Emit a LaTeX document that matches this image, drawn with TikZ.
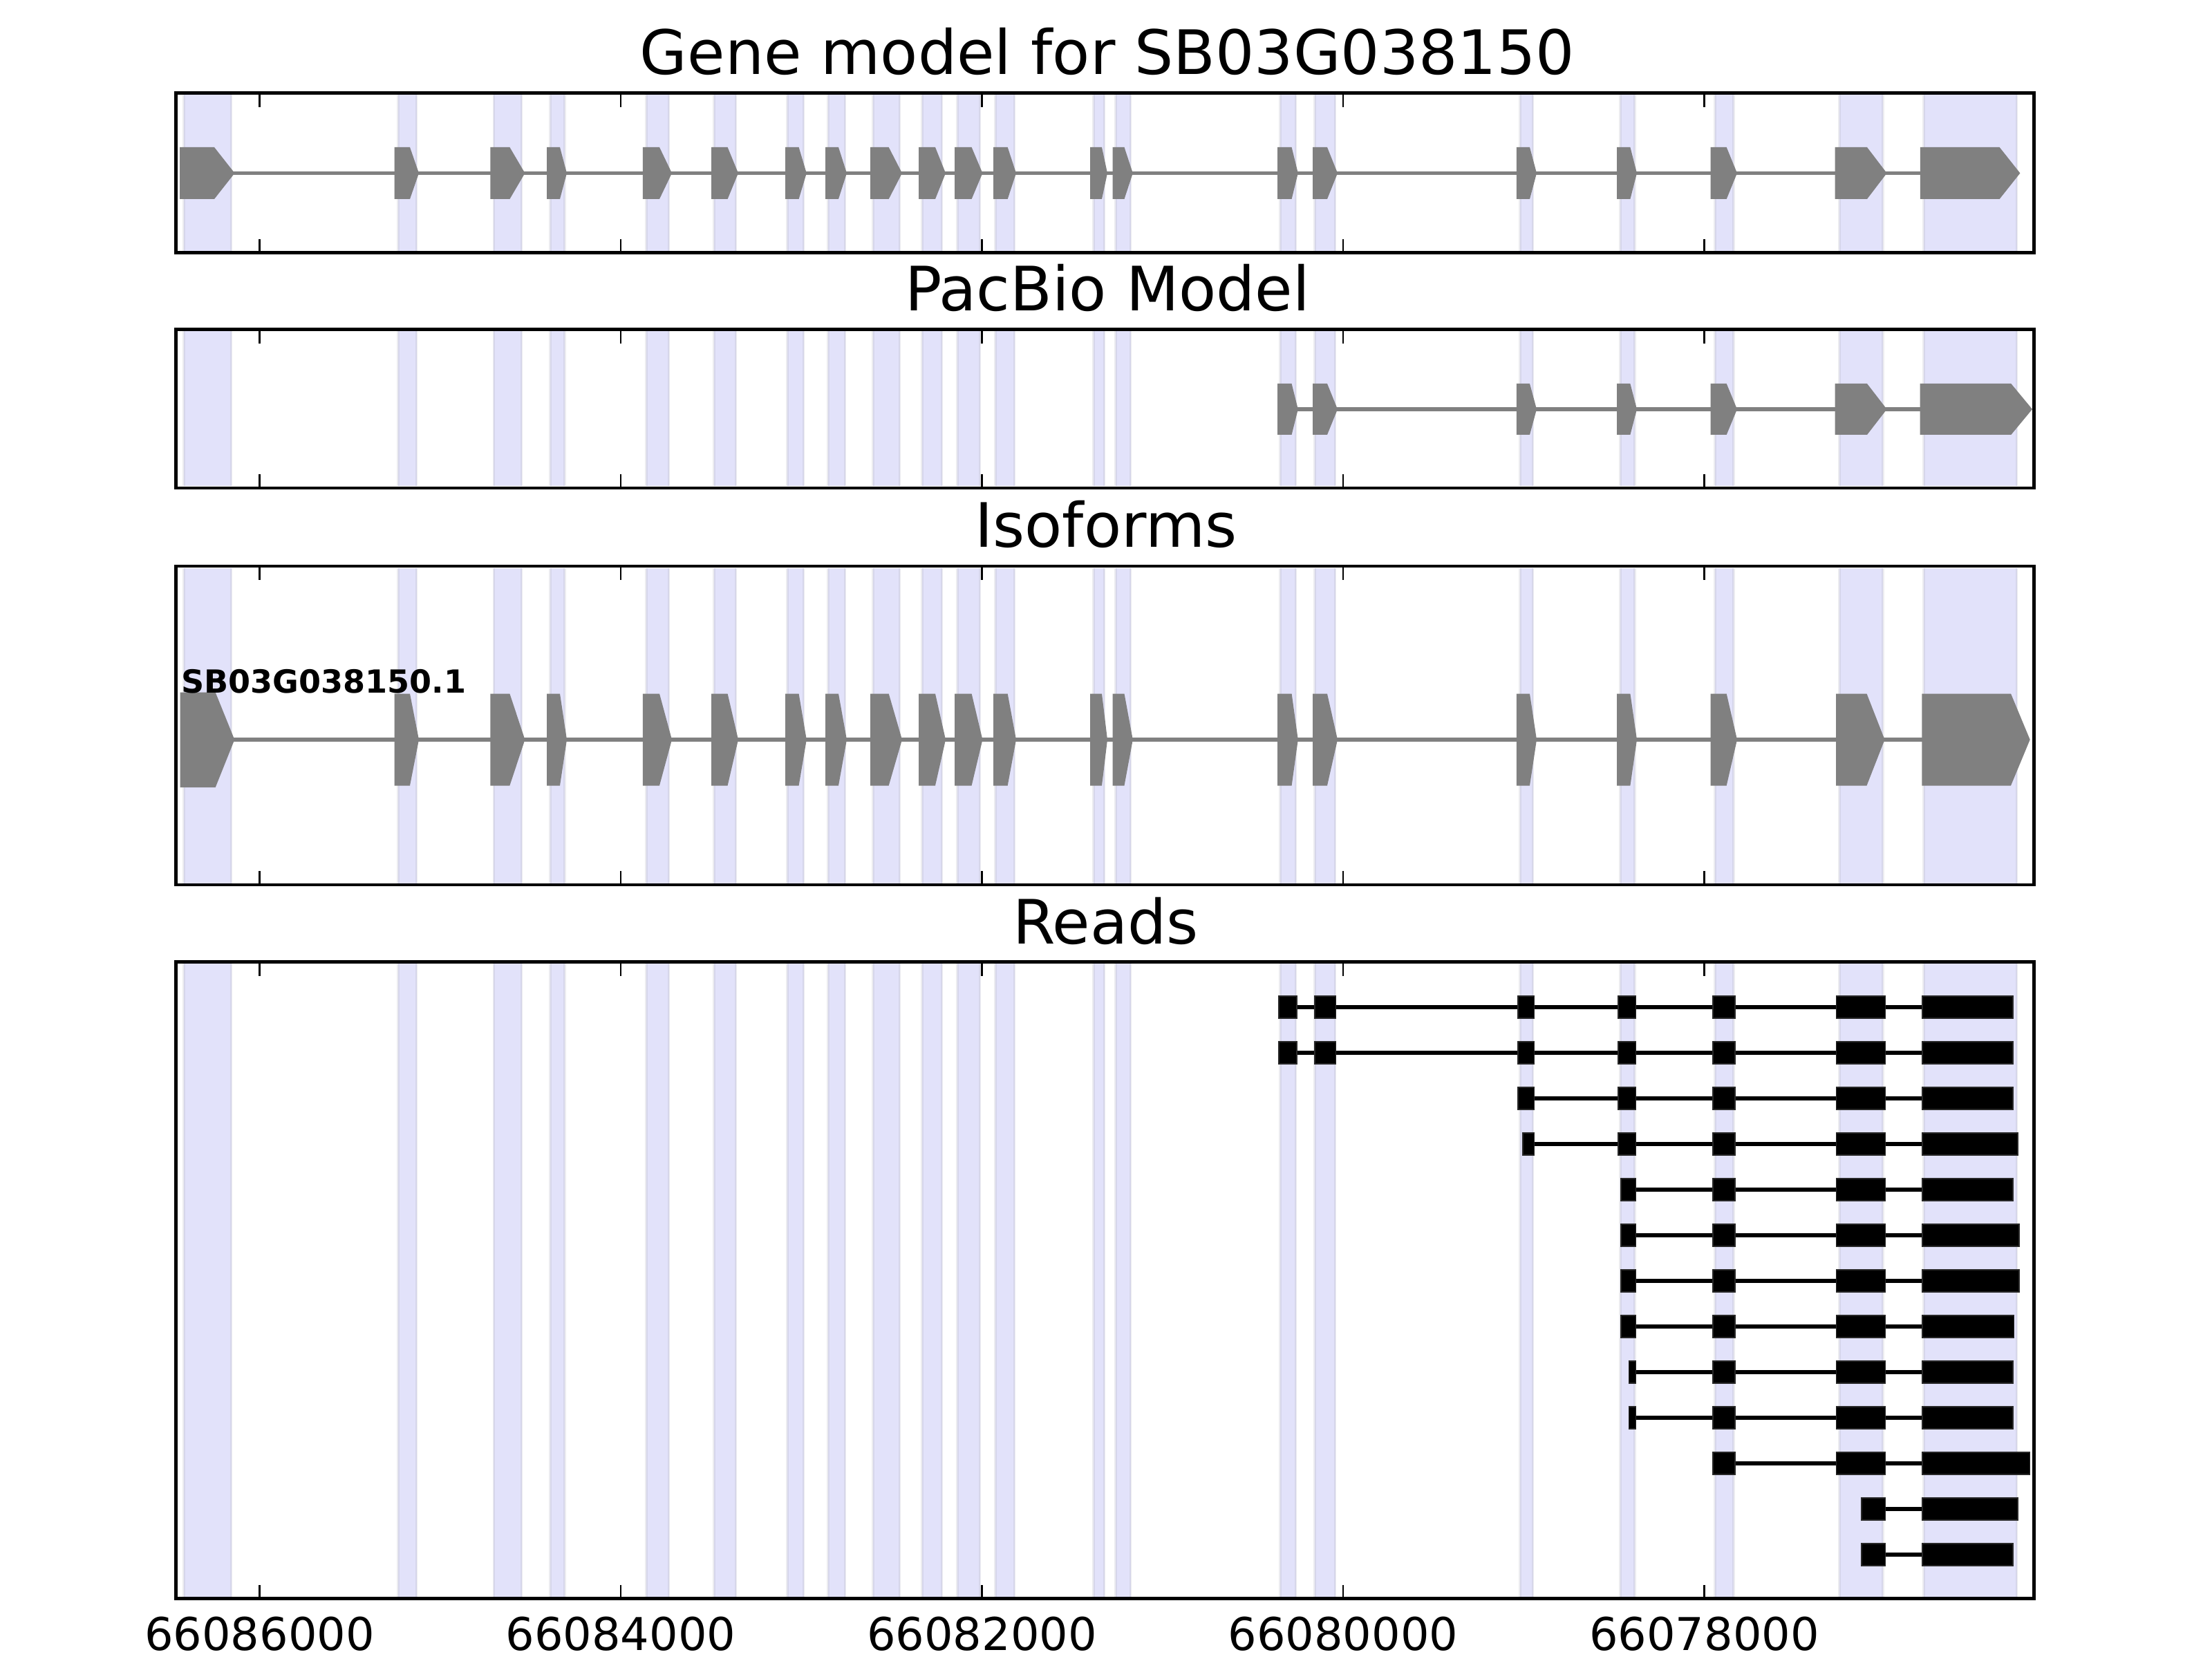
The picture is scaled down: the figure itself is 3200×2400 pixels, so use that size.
\documentclass[tikz,border=0pt]{standalone}
\usepackage{fontspec}
\setmainfont{DejaVu Sans}
\definecolor{bandfill}{RGB}{226,226,250}
\definecolor{bandedge}{RGB}{214,214,234}
\definecolor{bandgray}{RGB}{236,236,240}
\definecolor{exongray}{RGB}{128,128,128}
\tikzset{
  frame/.style={draw=black,line width=1.42pt},
  tickmark/.style={draw=black,line width=0.7pt},
  intron/.style={draw=exongray,line width=1.6pt},
  readline/.style={draw=black,line width=1.45pt},
  readblk/.style={fill=black,draw={rgb,255:red,40;green,40;blue,40},line width=0.3pt},
  exonshape/.style={fill=exongray},
  titletext/.style={anchor=base,inner sep=0pt,font=\fontsize{25.2}{30}\selectfont},
  ticktext/.style={anchor=base,inner sep=0pt,font=\fontsize{18.6}{22}\selectfont},
  isotext/.style={anchor=base west,inner sep=0pt,font=\fontsize{13.1}{16}\selectfont\bfseries}
}
\def\gmBandList{266/334,576/602,714.5/754,796/816.5,935/967,1033/1064,1139/1162,1198/1222,1263/1301,1334/1362,1385/1417,1440/1467,1582/1597,1614/1635,1852/1874,1902/1931,2199/2217,2344/2364.5,2481/2507.5,2661/2723.5,2783/2917}
\def\gmExonsA{260/310/339.5,570.6/593/606,709.4/737.4/759.4,791/810/820,929.8/954/972,1029/1052.6/1068,1136/1155.6/1166.8,1194/1213/1225,1259/1285.7/1305,1329/1353/1368,1381/1405.6/1421.4,1437/1457.7/1470,1577/1594/1602,1609.7/1626.5/1638.8,1848/1868.6/1877.8,1899/1920/1935,2193.9/2213/2223,2339/2358.4/2368,2474.7/2497.7/2513,2654.6/2701/2729.6}
\def\gmExonsB{1848/1868.6/1877.8,1899/1920/1935,2193.9/2213/2223,2339/2358.4/2368,2474.7/2497.7/2513,2654.6/2701/2729.6}
\newcommand\gmBands[2]{%
  \foreach \a/\b in \gmBandList {
    \fill[bandgray] (\a-2,#1) rectangle (\b+2,#2);
    \fill[bandedge] (\a-0.5,#1) rectangle (\b+0.5,#2);
    \fill[bandfill] (\a+1.5,#1) rectangle (\b-1.5,#2);
  }}
\newcommand\gmExons[3]{%
  \foreach \s/\r/\p in #3 {
    \fill[exonshape] (\s,#1-#2) -- (\r,#1-#2) -- (\p,#1) -- (\r,#1+#2) -- (\s,#1+#2) -- cycle;
  }}
\newcommand\gmTicks[2]{%
  \foreach \t in {375.5,898,1420.5,1943,2465.5} {
    \draw[tickmark] (\t,#1) -- (\t,#1+20);
    \draw[tickmark] (\t,#2) -- (\t,#2-20);
  }}
\newcommand\gmRead[4]{%
  \draw[readline] (#2,#1) -- (#3,#1);
  \foreach \a/\b in {#4} {
    \filldraw[readblk] (\a,#1-16) rectangle (\b,#1+16);
  }}
\begin{document}
\begin{tikzpicture}[x=0.1mm,y=-0.1mm]
\useasboundingbox[fill=white] (0,0) rectangle (3200,2400);

% ---------- Panel 1: Gene model ----------
\gmBands{137}{363.5}
\draw[intron] (300,250.5) -- (2800,250.5);
\gmExons{250.5}{37.5}{\gmExonsA}
\fill[exonshape] (2777.8,213) -- (2892.6,213) -- (2922.4,250.5) -- (2892.6,288) -- (2777.8,288) -- cycle;
\gmTicks{134.7}{365.8}
\draw[frame] (254.5,134.7) rectangle (2942.5,365.8);
\node[titletext] (title1) at (1602,108) {Gene model for SB03G038150};

% ---------- Panel 2: PacBio ----------
\gmBands{479}{703.5}
\draw[intron] (1860,592) -- (2800,592);
\gmExons{592}{37}{\gmExonsB}
\fill[exonshape] (2777.5,555) -- (2909.3,555) -- (2940,592) -- (2909.3,629) -- (2777.5,629) -- cycle;
\gmTicks{476.7}{706}
\draw[frame] (254.5,476.7) rectangle (2942.5,706);
\node[titletext] (title2) at (1602,450) {PacBio Model};

% ---------- Panel 3: Isoforms ----------
\gmBands{821.5}{1277.5}
\draw[intron] (300,1070) -- (2800,1070);
\gmExons{1070}{66.5}{{570.6/593/606,709.4/737.4/759.4,791/810/820,929.8/954/972,1029/1052.6/1068,1136/1155.6/1166.8,1194/1213/1225,1259/1285.7/1305,1329/1353/1368,1381/1405.6/1421.4,1437/1457.7/1470,1577/1594/1602,1609.7/1626.5/1638.8,1848/1868.6/1877.8,1899/1920/1935,2193.9/2213/2223,2339/2358.4/2368,2474.7/2497.7/2513,2656/2700.5/2726.5}}
\fill[exonshape] (260.5,1001.7) -- (311.7,1001.7) -- (339.3,1070) -- (311.7,1139) -- (260.5,1139) -- cycle;
\fill[exonshape] (2780.3,1003.5) -- (2909,1003.5) -- (2936.7,1070) -- (2909,1136.5) -- (2780.3,1136.5) -- cycle;
\gmTicks{819}{1280}
\draw[frame] (254.5,819) rectangle (2942.5,1280);
\node[titletext] (title3) at (1600,792) {Isoforms};
\node[isotext] (iso1) at (261.5,1002) {SB03G038150.1};

% ---------- Panel 4: Reads ----------
\gmBands{1394}{2310}
\gmRead{1457}{1850}{2912}{1850/1876,1902/1932.5,2196/2219.5,2341/2366.5,2478/2510,2656.5/2727.5,2781/2912}
\gmRead{1523}{1850}{2912}{1850/1876,1902/1932.5,2196/2219.5,2341/2366.5,2478/2510,2656.5/2727.5,2781/2912}
\gmRead{1589}{2196}{2912}{2196/2219.5,2341/2366.5,2478/2510,2656.5/2727.5,2781/2912}
\gmRead{1655}{2203}{2919}{2203/2219.5,2341/2366.5,2478/2510,2656.5/2727.5,2781/2919}
\gmRead{1721}{2345}{2912}{2345/2366.5,2478/2510,2656.5/2727.5,2781/2912}
\gmRead{1787}{2345}{2921}{2345/2366.5,2478/2510,2656.5/2727.5,2781/2921}
\gmRead{1853}{2345}{2921}{2345/2366.5,2478/2510,2656.5/2727.5,2781/2921}
\gmRead{1919}{2345}{2913.5}{2345/2366.5,2478/2510,2656.5/2727.5,2781/2913.5}
\gmRead{1985}{2356.5}{2912}{2356.5/2366.5,2478/2510,2656.5/2727.5,2781/2912}
\gmRead{2051}{2356.5}{2912}{2356.5/2366.5,2478/2510,2656.5/2727.5,2781/2912}
\gmRead{2117}{2478}{2936.5}{2478/2510,2656.5/2727.5,2781/2936.5}
\gmRead{2183}{2693}{2919}{2693/2727.5,2781/2919}
\gmRead{2249}{2693}{2912}{2693/2727.5,2781/2912}
\gmTicks{1391.7}{2312.5}
\draw[frame] (254.5,1391.7) rectangle (2942.5,2312.5);
\node[titletext] (title4) at (1599.5,1365) {Reads};

% ---------- x tick labels ----------
\node[ticktext] (t1) at (375.5,2387) {66086000};
\node[ticktext] (t2) at (898,2387) {66084000};
\node[ticktext] (t3) at (1420.5,2387) {66082000};
\node[ticktext] (t4) at (1943,2387) {66080000};
\node[ticktext] (t5) at (2465.5,2387) {66078000};
\end{tikzpicture}
\end{document}
